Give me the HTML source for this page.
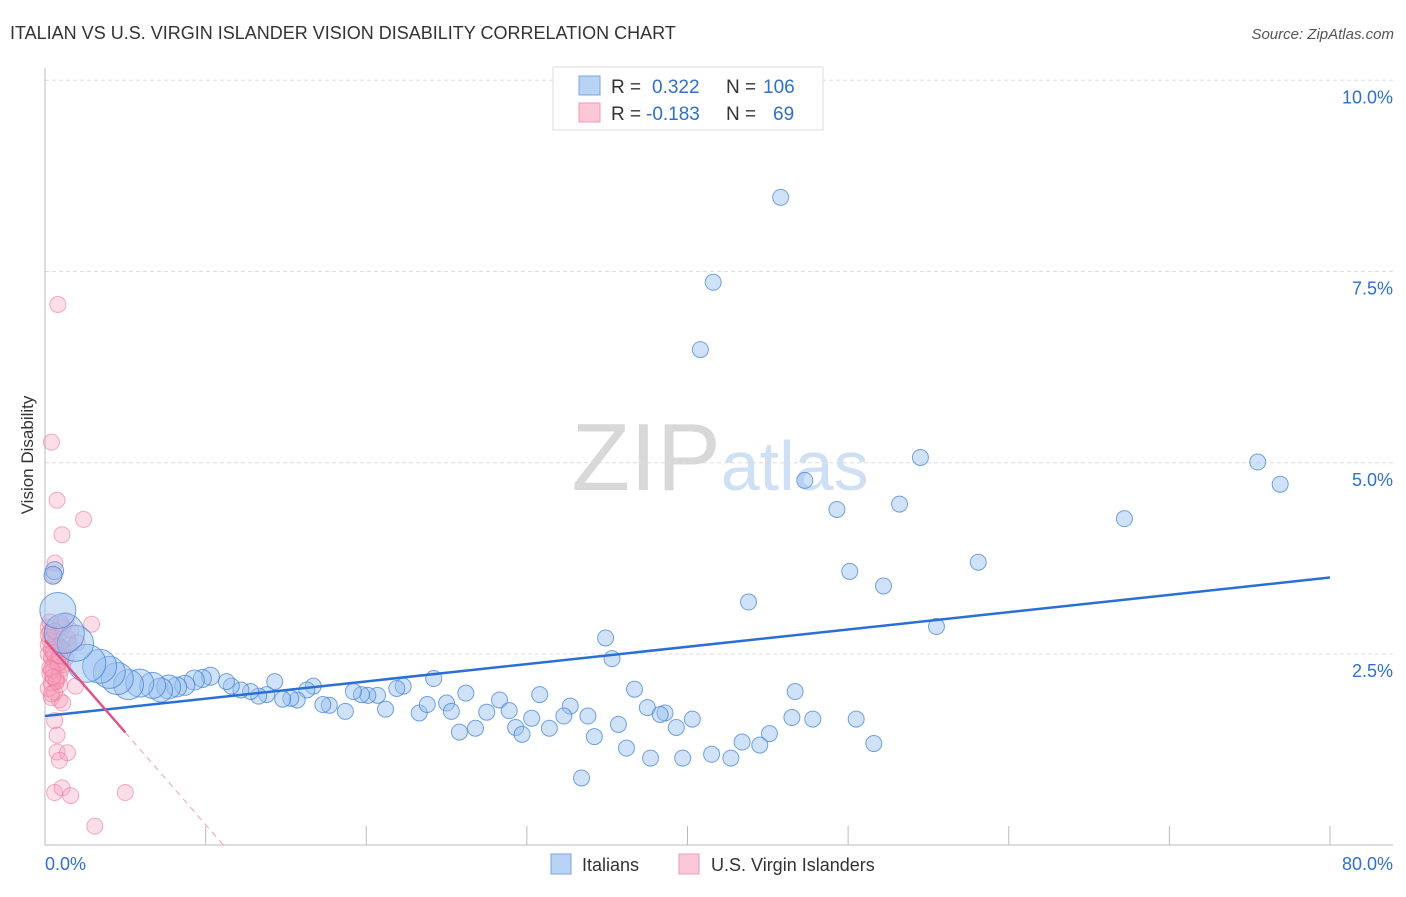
<!DOCTYPE html>
<html><head><meta charset="utf-8"><style>
body{margin:0;background:#fff;font-family:"Liberation Sans",sans-serif;}
svg text{font-family:"Liberation Sans",sans-serif;}
</style></head><body>
<svg id="chart" width="1406" height="892" viewBox="0 0 1406 892">
<text x="10" y="39" font-size="18" fill="#333">ITALIAN VS U.S. VIRGIN ISLANDER VISION DISABILITY CORRELATION CHART</text>
<text x="1394" y="39" font-size="15" fill="#555" font-style="italic" text-anchor="end">Source: ZipAtlas.com</text>
<text x="33" y="455" font-size="17" fill="#333" text-anchor="middle" transform="rotate(-90 33 455)">Vision Disability</text>
<text x="720" y="490" font-size="96" fill="#ddd" text-anchor="middle" font-family="Liberation Serif"><tspan fill="#d8d8d8">ZIP</tspan><tspan fill="#cfe0f4" font-family="Liberation Sans" font-size="70">atlas</tspan></text>
<g id="grid"></g>
<g id="axes"></g>
<g id="pts"></g>
<g id="lines"></g>
<g>
<rect x="553" y="67" width="270" height="63" fill="#fff" stroke="#ddd"/>
<rect x="579" y="76" width="21" height="19" fill="#b9d3f5" stroke="#7aa6e0"/>
<rect x="579" y="103" width="21" height="19" fill="#fcc8d7" stroke="#ef9ab5"/>
<text x="611" y="93" font-size="19" fill="#333">R = <tspan fill="#2f6fd0" x="652">0.322</tspan><tspan fill="#333" x="726">N =</tspan><tspan fill="#2f6fd0" x="763">106</tspan></text>
<text x="611" y="120" font-size="19" fill="#333">R = <tspan fill="#2f6fd0" x="646">-0.183</tspan><tspan fill="#333" x="726">N =</tspan><tspan fill="#2f6fd0" x="773">69</tspan></text>
</g>
<g>
<rect x="551" y="854" width="20" height="20" fill="#b9d3f5" stroke="#7aa6e0"/>
<text x="582" y="871" font-size="18" fill="#333">Italians</text>
<rect x="679" y="854" width="20" height="20" fill="#fcc8d7" stroke="#ef9ab5"/>
<text x="711" y="871" font-size="18" fill="#333">U.S. Virgin Islanders</text>
</g>
</svg>
<script>
const yTicks=[2.5,5.0,7.5,10.0];
const xTickLabels=["0.0%","80.0%"];
const blueX=[45.8,41.6,40.8,54.5,75.5,76.9,47.3,67.2,53.2,49.3,58.1,50.1,52.2,43.8,55.5,34.9,35.3,36.7,46.7,30.8,26.2,28.3,24.2,32.7,37.5,38.6,38.3,40.3,46.5,47.8,50.5,32.3,33.8,35.7,39.3,30.3,29.3,31.4,29.7,26.8,25.8,27.5,28.9,34.2,43.4,45.1,44.5,51.6,36.2,37.7,39.7,41.5,42.7,33.4,22.3,23.3,23.8,25.0,25.3,21.9,21.2,20.7,20.1,19.7,19.2,18.7,17.7,17.3,16.7,16.3,15.7,15.3,14.8,14.3,13.8,13.3,12.8,12.2,11.6,11.3,10.3,9.8,9.3,8.7,8.2,7.7,7.2,6.7,5.9,5.2,4.5,4.0,3.4,2.6,1.9,1.2,0.8,0.6,0.5];
const blueY=[8.47,7.36,6.48,5.07,5.01,4.72,4.77,4.27,4.46,4.39,3.70,3.58,3.39,3.18,2.86,2.71,2.44,2.04,2.01,1.97,1.99,1.90,2.18,1.82,1.80,1.73,1.71,1.65,1.67,1.65,1.65,1.69,1.69,1.58,1.54,1.66,1.54,1.53,1.45,1.53,1.48,1.74,1.76,1.42,1.35,1.46,1.31,1.33,1.27,1.14,1.14,1.19,1.14,0.88,2.08,1.73,1.84,1.86,1.75,2.05,1.78,1.96,1.96,1.97,2.01,1.75,1.83,1.84,2.08,2.03,1.90,1.92,1.91,2.14,1.97,1.95,2.01,2.03,2.08,2.14,2.21,2.18,2.16,2.09,2.07,2.07,2.03,2.09,2.12,2.10,2.18,2.26,2.34,2.38,2.64,2.77,3.07,3.59,3.53];
const blueR=[8,8,8,8,8,8,8,8,8,8,8,8,8,8,8,8,8,8,8,8,8,8,8,8,8,8,8,8,8,8,8,8,8,8,8,8,8,8,8,8,8,8,8,8,8,8,8,8,8,8,8,8,8,8,8,8,8,8,8,8,8,8,8,8,8,8,8,8,8,8,8,8,8,8,8,8,8,8,8,8,9,9,10,10,10,12,12,13,14,15,16,16,17,19,18,20,18,9,9];
const pinkX=[0.8,0.4,0.75,2.4,1.06,0.62,0.56,2.9,1.1,1.6,1.3,1.9,0.4,0.9,1.1,0.6,0.75,0.75,1.4,0.9,0.6,1.06,1.6,5.0,3.1,0.2,0.3,0.5,0.7,0.9,1.0,1.2,1.4,0.2,0.4,0.6,0.8,1.0,0.3,0.5,0.7,0.9,0.2,0.4,0.6,0.8,1.1,0.3,0.5,0.7,0.2,0.4,0.6,0.9,1.3,0.3,0.5,0.8,0.2,0.4,0.7,1.0,1.5,0.3,0.6,0.4,0.9,2.0,0.5];
const pinkY=[7.07,5.27,4.51,4.26,4.06,3.69,3.53,2.89,2.85,2.81,2.94,2.08,1.93,1.90,1.86,1.63,1.44,1.22,1.21,1.11,0.69,0.75,0.65,0.69,0.25,2.85,2.78,2.72,2.66,2.60,2.90,2.55,2.70,2.50,2.45,2.40,2.35,2.30,2.25,2.20,2.15,2.10,2.62,2.56,2.48,2.42,2.36,2.32,2.28,2.18,2.05,2.12,2.00,2.22,2.45,2.68,2.52,2.38,2.75,2.30,2.14,2.58,2.62,2.92,2.80,1.98,2.48,2.65,2.20];
const blueLine=[1.69,3.50];
const pinkLine=[2.68,-0.241];
const X=v=>45+v/80*1285, Y=v=>845.3-v*76.5;
const NS="http://www.w3.org/2000/svg";
function mk(t,a,p){const e=document.createElementNS(NS,t);for(const k in a)e.setAttribute(k,a[k]);p.appendChild(e);return e;}
const grid=document.getElementById('grid'),axes=document.getElementById('axes');
yTicks.forEach(t=>{
 const l=mk('line',{x1:45,x2:1393,y1:Y(t),y2:Y(t),stroke:'#ddd','stroke-dasharray':'4,3'},grid);
 
 
 const tx=mk('text',{x:1393,y:Y(t)+23,'font-size':18,fill:'#2f6fd0','text-anchor':'end'},axes);
 tx.textContent=t.toFixed(1)+'%';
 
 
});
mk('line',{x1:45,x2:45,y1:68,y2:845,stroke:'#bbb'},axes);
mk('line',{x1:45,x2:1393,y1:845,y2:845,stroke:'#bbb'},axes);
for(let i=1;i<=8;i++){const tk=mk('line',{x1:X(i*10),x2:X(i*10),y1:826,y2:845,stroke:'#bbb'},axes);
 
 }
const l0=mk('text',{x:45,y:870,'font-size':18,fill:'#2f6fd0'},axes);l0.textContent=xTickLabels[0];


const l1=mk('text',{x:1393,y:870,'font-size':18,fill:'#2f6fd0','text-anchor':'end'},axes);l1.textContent=xTickLabels[1];


const pts=document.getElementById('pts');
pinkX.forEach((x,i)=>{const c=mk('circle',{cx:X(x),cy:Y(pinkY[i]),r:8,fill:'rgba(246,160,188,0.35)',stroke:'rgba(236,120,155,0.6)'},pts);
 
 });
blueX.forEach((x,i)=>{const c=mk('circle',{cx:X(x),cy:Y(blueY[i]),r:blueR[i],fill:'rgba(150,190,240,0.45)',stroke:'rgba(60,125,215,0.7)'},pts);
 
 });
const lines=document.getElementById('lines');
const bl=mk('line',{x1:X(0),y1:Y(blueLine[0]),x2:X(80),y2:Y(blueLine[1]),stroke:'#2a6fd6','stroke-width':2.5},lines);


const pe=pinkLine[0]/-pinkLine[1];
const ps=mk('line',{x1:X(0),y1:Y(pinkLine[0]),x2:X(5),y2:Y(pinkLine[0]+pinkLine[1]*5),stroke:'#e05585','stroke-width':2.5},lines);


const pd=mk('line',{x1:X(5),y1:Y(pinkLine[0]+pinkLine[1]*5),x2:X(pe),y2:Y(0),stroke:'#eaa0b8','stroke-width':1,'stroke-dasharray':'6,5'},lines);


</script>
</body></html>
